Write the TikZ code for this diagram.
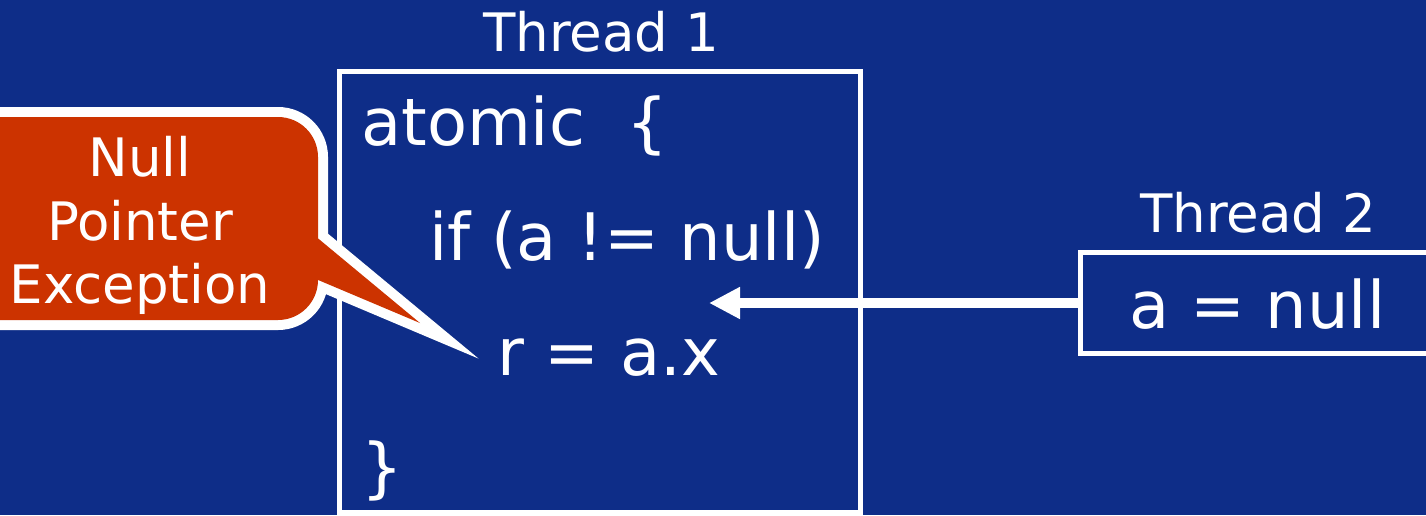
\documentclass[tikz,border=0pt]{standalone}
\usepackage{fontspec}
\setmainfont{DejaVu Sans}
\usetikzlibrary{arrows.meta}
\definecolor{slidebg}{RGB}{14,45,136}
\definecolor{alertred}{RGB}{204,51,0}
\begin{document}
\begin{tikzpicture}[x=1pt,y=-1pt,
  codeline/.style={anchor=base west, inner sep=0pt, text=white,
    font=\fontsize{65.5}{78}\selectfont},
  threadtitle/.style={anchor=base, inner sep=0pt, text=white,
    font=\fontsize{53}{63}\selectfont},
  calloutline/.style={anchor=base, inner sep=0pt, text=white,
    font=\fontsize{53}{63}\selectfont},
  threadbox/.style={draw=white, line width=5pt, inner sep=0pt, rectangle},
  outline/.style={white, line width=20pt, line join=miter, miter limit=20}]

% page and background
\useasboundingbox (0,0) rectangle (1426,515);
\clip (0,0) rectangle (1426,515);
\fill[slidebg] (0,0) rectangle (1426,515);

% thread boxes
\node[threadbox, minimum width=521pt, minimum height=441pt] (t1box) at (599.5,291.5) {};
\node[threadbox, minimum width=440pt, minimum height=101pt] (t2box) at (1300,303) {};

% titles
\node[threadtitle] (t1title) at (601,51) {Thread 1};
\node[threadtitle] (t2title) at (1258,232) {Thread 2};

% code of thread 1
\node[codeline] (c1) at (361,145) {atomic\ \ \{};
\node[codeline] (c2) at (429,260) {if (a != null)};
\node[codeline] (c3) at (497,375) {r = a.x};
\node[codeline] (c4) at (361,490) {\}};

% code of thread 2
\node[codeline] (c5) at (1129,328) {a = null};

% interleaving arrow
\coordinate (hit) at (709,303);
\draw[white, line width=10pt, -{Triangle[length=31pt,width=30pt]}] (t2box.west) -- (hit);

% speech bubble: wide white outline first, red fill on top of its inner half
\draw[outline, rounded corners=40pt] (-60,117) rectangle (318,320);
\draw[outline] (285,211) -- (420,323) -- (285,266) -- cycle;
\fill[alertred, rounded corners=40pt] (-60,117) rectangle (318,320);
\fill[alertred] (285,211) -- (420,323) -- (285,266) -- cycle;

\node[calloutline] (n1) at (140,176) {Null};
\node[calloutline] (n2) at (140,240) {Pointer};
\node[calloutline] (n3) at (140,303) {Exception};
\end{tikzpicture}
\end{document}
